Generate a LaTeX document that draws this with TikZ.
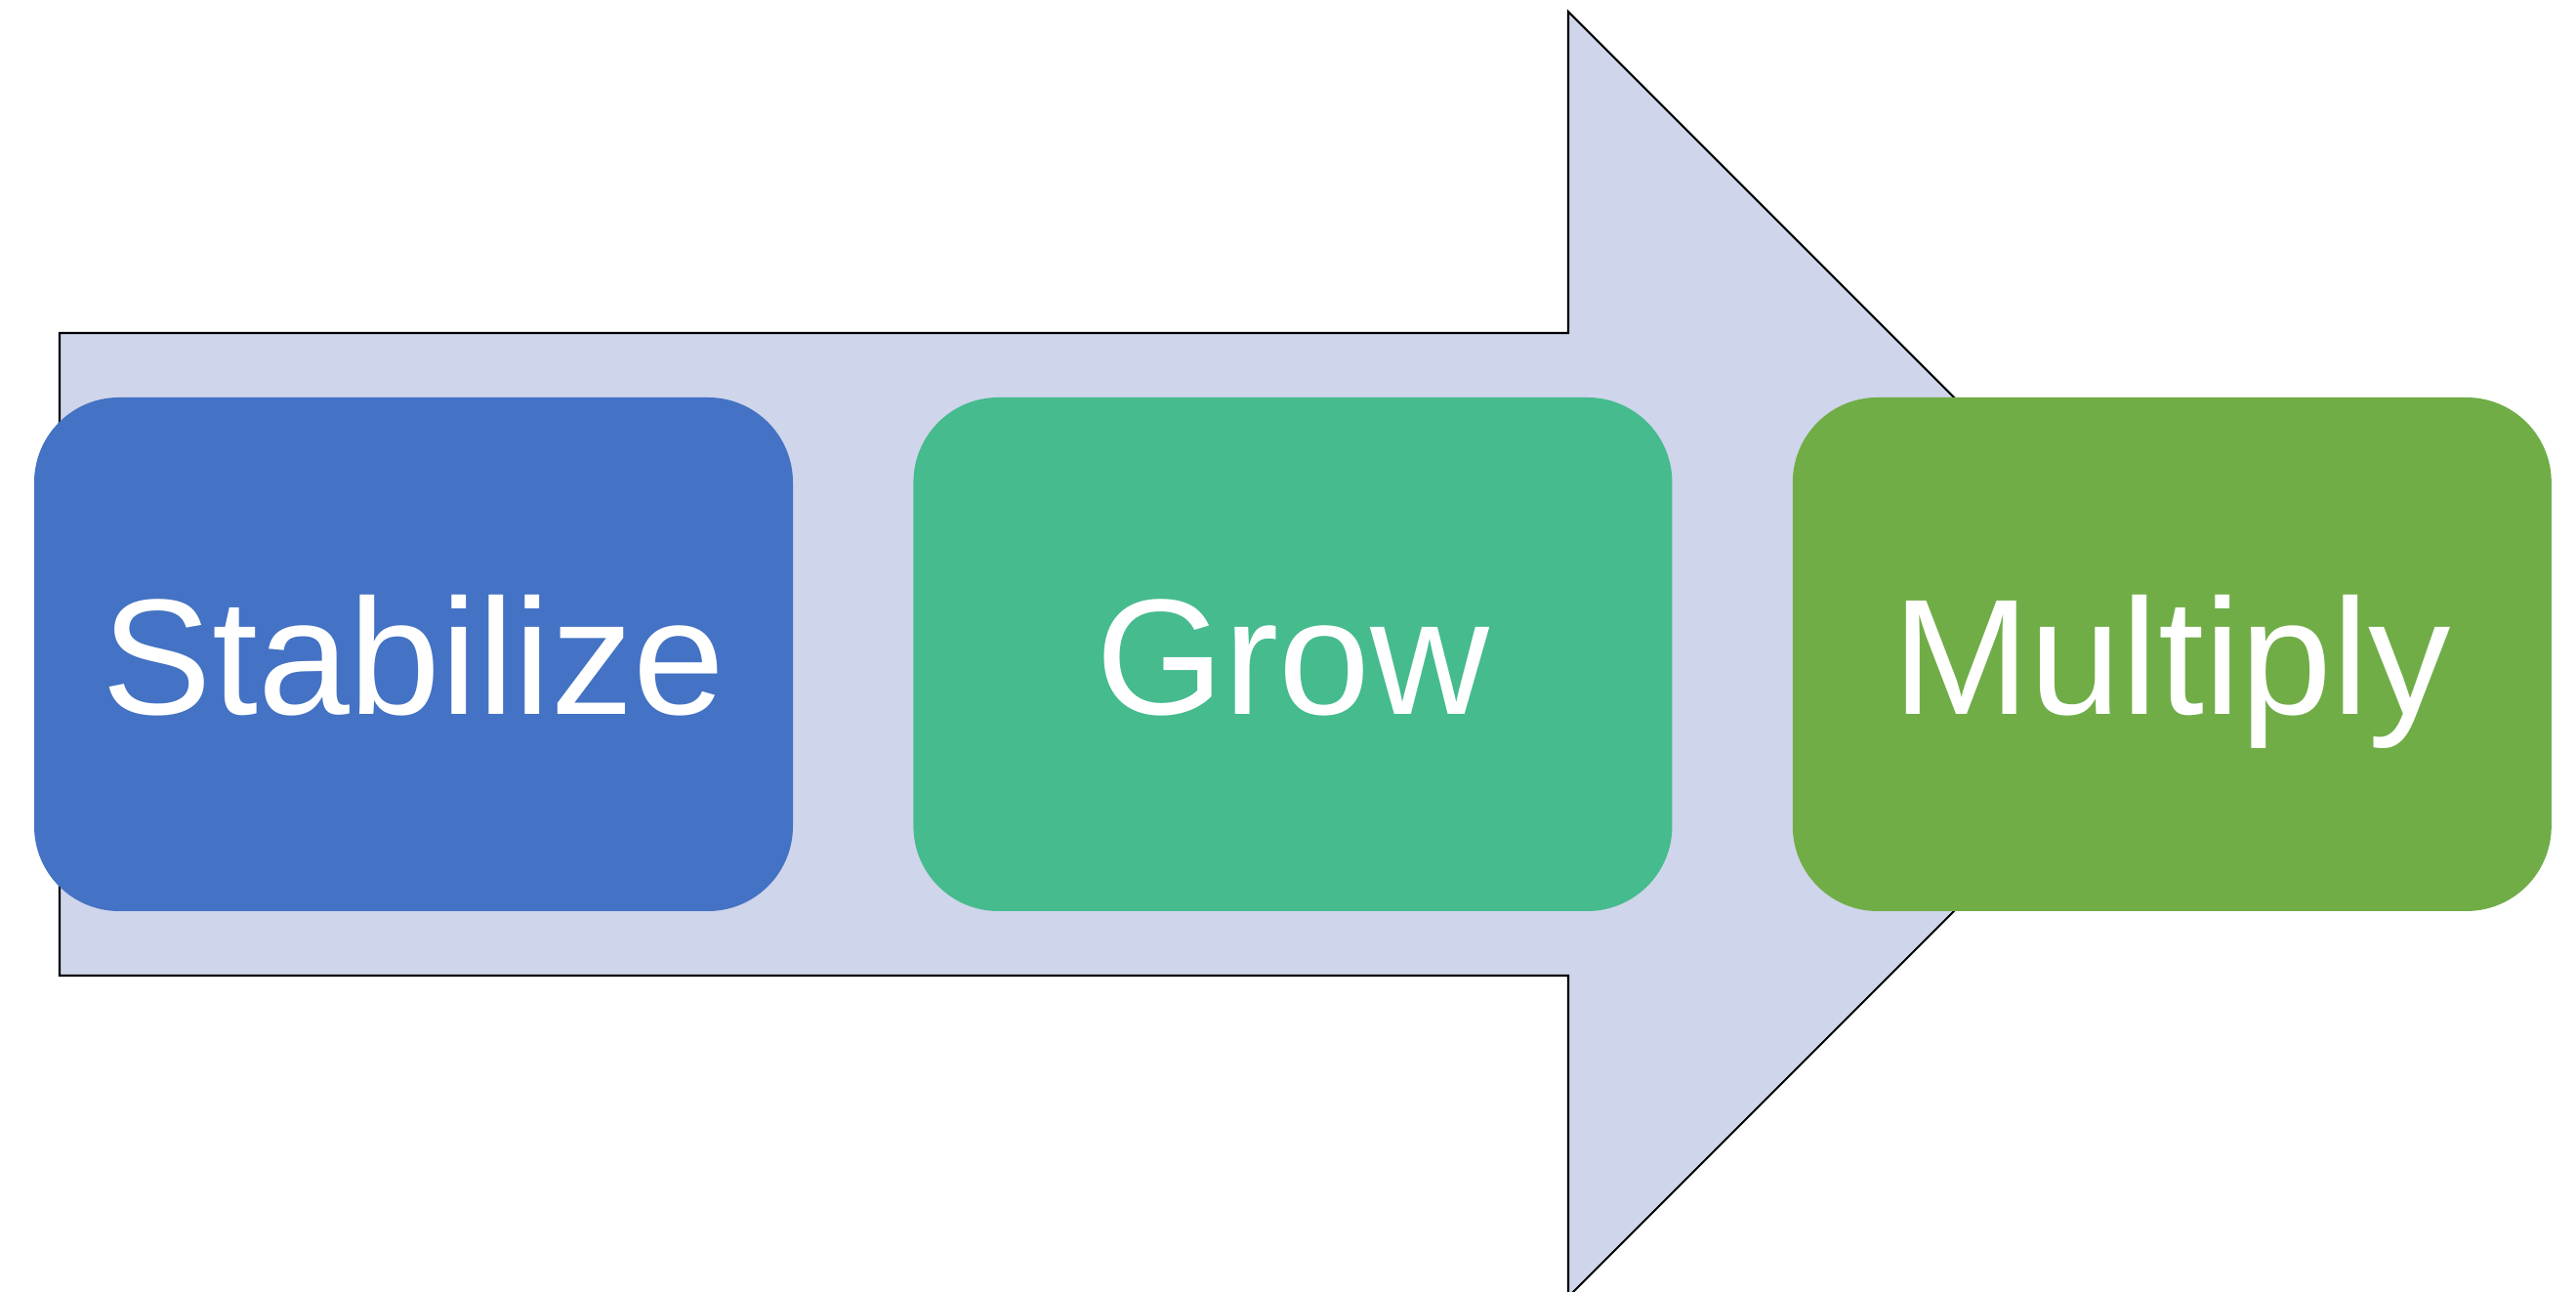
\documentclass[tikz,border=0pt]{standalone}
\usepackage{fontspec}
\setmainfont{Liberation Sans}
\usepackage{tikz}
\usetikzlibrary{positioning}
\definecolor{stabblue}{HTML}{4472C4}
\definecolor{growgreen}{HTML}{45BB8E}
\definecolor{multgreen}{HTML}{70AD47}
\definecolor{arrowfill}{HTML}{CFD5EA}
\tikzstyle{phase} = [rectangle, rounded corners=0.87cm, minimum width=7.77cm, minimum height=5.26cm, text centered, draw=none, text=white, text height=35pt, text depth=0pt, font=\fontsize{48}{58}\selectfont]
\tikzstyle{stabbox} = [phase, fill=stabblue]
\tikzstyle{growbox} = [phase, fill=growgreen]
\tikzstyle{multbox} = [phase, fill=multgreen]
\tikzstyle{bigarrow} = [draw=black, line width=0.6pt, fill=arrowfill]

\begin{document}
\begin{tikzpicture}
        \useasboundingbox (0,0) rectangle (26.38,13.23);
        \draw [bigarrow] (0.61,9.82) -- (16.06,9.82) -- (16.06,13.11) -- (22.64,6.53) -- (16.06,-0.05) -- (16.06,3.24) -- (0.61,3.24) -- cycle;
        \node (stab) [stabbox] at (4.235,6.53) {Stabilize};
        \node (grow) [growbox, right=1.22cm of stab] {Grow};
        \node (mult) [multbox, right=1.22cm of grow] {Multiply};
      \end{tikzpicture}
\end{document}
